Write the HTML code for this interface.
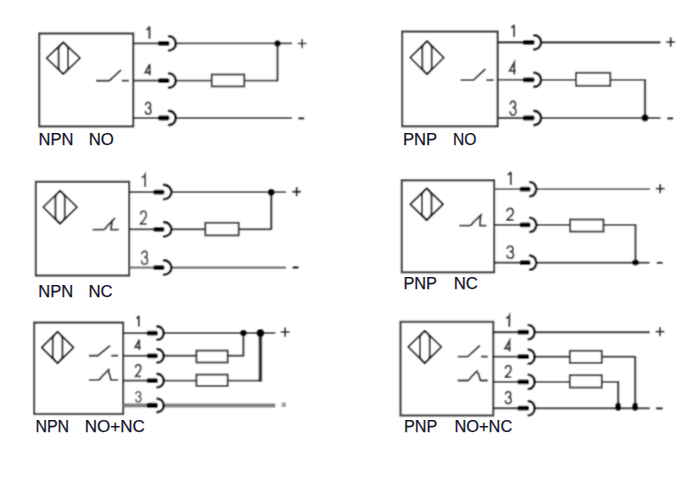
<!DOCTYPE html>
<html><head><meta charset="utf-8"><style>
html,body{margin:0;padding:0;background:#fff;}
svg{display:block;}
text{font-family:"Liberation Sans",sans-serif;}
</style></head><body>
<svg width="700" height="496" viewBox="0 0 700 496">
<defs><filter id="bl" x="0" y="0" width="700" height="496" filterUnits="userSpaceOnUse"><feConvolveMatrix order="3" kernelMatrix="1 3 1 3 9 3 1 3 1" edgeMode="duplicate" preserveAlpha="false"/></filter></defs>
<rect width="700" height="496" fill="#fff"/>
<g filter="url(#bl)">
<rect width="700" height="496" fill="#fff"/>
<rect x="39.2" y="33.5" width="94" height="92.9" stroke="#2e2e2e" stroke-width="2.2" fill="none"/>
<path d="M46.55,58.2 L63.3,42.25 L80.05,58.2 L63.3,74.15 Z" stroke="#0a0a0a" stroke-width="1.8" fill="none" stroke-linejoin="round"/>
<path d="M63.3,42.55 Q58.6,46.43 58.6,48.93 L58.6,67.47 Q58.6,69.97 63.3,73.85 Q68.0,69.97 68.0,67.47 L68.0,48.93 Q68.0,46.43 63.3,42.55" stroke="#0a0a0a" stroke-width="1.8" fill="none"/>
<path d="M96.1,80.7 L109.3,80.7 L121.1,69.9" stroke="#262626" stroke-width="1.9" fill="none" stroke-linejoin="round"/>
<path d="M121.8,80.7 L128.9,80.7" stroke="#262626" stroke-width="1.9" fill="none"/>
<line x1="133.2" y1="43.4" x2="158.3" y2="43.4" stroke="#2a2a2a" stroke-width="1.9"/>
<line x1="176.6" y1="43.4" x2="292" y2="43.4" stroke="#2a2a2a" stroke-width="1.9"/>
<rect x="158.0" y="41.0" width="11.4" height="4.8" rx="1.6" fill="#000"/>
<path d="M169.0,36.3 A6.8,7.1 0 0 1 169.0,50.5" fill="none" stroke="#000" stroke-width="2.6" stroke-linecap="round"/>
<line x1="133.2" y1="80.6" x2="158.3" y2="80.6" stroke="#2a2a2a" stroke-width="1.9"/>
<line x1="176.6" y1="80.6" x2="277.5" y2="80.6" stroke="#2a2a2a" stroke-width="1.9"/>
<rect x="158.0" y="78.2" width="11.4" height="4.8" rx="1.6" fill="#000"/>
<path d="M169.0,73.5 A6.8,7.1 0 0 1 169.0,87.7" fill="none" stroke="#000" stroke-width="2.6" stroke-linecap="round"/>
<line x1="133.2" y1="118" x2="158.3" y2="118" stroke="#2a2a2a" stroke-width="1.9"/>
<line x1="176.6" y1="118" x2="292" y2="118" stroke="#2a2a2a" stroke-width="1.9"/>
<rect x="158.0" y="115.6" width="11.4" height="4.8" rx="1.6" fill="#000"/>
<path d="M169.0,110.9 A6.8,7.1 0 0 1 169.0,125.1" fill="none" stroke="#000" stroke-width="2.6" stroke-linecap="round"/>
<rect x="211.7" y="74.5" width="32.6" height="11.9" stroke="#2e2e2e" stroke-width="1.9" fill="#fff"/>
<line x1="277.5" y1="43" x2="277.5" y2="81.4" stroke="#2e2e2e" stroke-width="2.0"/>
<circle cx="277.5" cy="43.4" r="3.2" fill="#000"/>
<path d="M297.7,43.6 L306.5,43.6 M302.1,39.0 L302.1,48.2" stroke="#1e1e1e" stroke-width="1.5"/>
<line x1="299.1" y1="118.3" x2="303.3" y2="118.3" stroke="#1e1e1e" stroke-width="2.3" stroke-linecap="round"/>
<rect x="402.1" y="31.6" width="95.6" height="94.7" stroke="#2e2e2e" stroke-width="2.2" fill="none"/>
<path d="M410.2,57.7 L427.0,41.0 L443.8,57.7 L427.0,74.4 Z" stroke="#0a0a0a" stroke-width="1.8" fill="none" stroke-linejoin="round"/>
<path d="M427.0,41.3 Q422.3,45.37 422.3,47.87 L422.3,67.53 Q422.3,70.03 427.0,74.1 Q431.7,70.03 431.7,67.53 L431.7,47.87 Q431.7,45.37 427.0,41.3" stroke="#0a0a0a" stroke-width="1.8" fill="none"/>
<path d="M460.6,80.1 L473.4,80.1 L485.4,69" stroke="#262626" stroke-width="1.9" fill="none" stroke-linejoin="round"/>
<path d="M486.3,80.1 L493.6,80.1" stroke="#262626" stroke-width="1.9" fill="none"/>
<line x1="497.7" y1="42.3" x2="523" y2="42.3" stroke="#1a1a1a" stroke-width="2.3"/>
<line x1="541.9" y1="42.3" x2="660.4" y2="42.3" stroke="#1a1a1a" stroke-width="2.3"/>
<rect x="522.7" y="39.9" width="11.9" height="4.8" rx="1.6" fill="#000"/>
<path d="M534.2,35.2 A6.9,7.1 0 0 1 534.2,49.4" fill="none" stroke="#000" stroke-width="2.6" stroke-linecap="round"/>
<line x1="497.7" y1="79.8" x2="523" y2="79.8" stroke="#3a3a3a" stroke-width="1.8"/>
<line x1="541.9" y1="79.8" x2="645.0" y2="79.8" stroke="#3a3a3a" stroke-width="1.8"/>
<rect x="522.7" y="77.4" width="11.9" height="4.8" rx="1.6" fill="#000"/>
<path d="M534.2,72.7 A6.9,7.1 0 0 1 534.2,86.9" fill="none" stroke="#000" stroke-width="2.6" stroke-linecap="round"/>
<line x1="497.7" y1="118.0" x2="523" y2="118.0" stroke="#222" stroke-width="2.2"/>
<line x1="541.9" y1="118.0" x2="660.4" y2="118.0" stroke="#222" stroke-width="2.2"/>
<rect x="522.7" y="115.6" width="11.9" height="4.8" rx="1.6" fill="#000"/>
<path d="M534.2,110.9 A6.9,7.1 0 0 1 534.2,125.1" fill="none" stroke="#000" stroke-width="2.6" stroke-linecap="round"/>
<rect x="576" y="72.8" width="34.3" height="13.0" stroke="#2e2e2e" stroke-width="1.9" fill="#fff"/>
<line x1="645.0" y1="79.0" x2="645.0" y2="117.8" stroke="#2e2e2e" stroke-width="2.3"/>
<circle cx="645.0" cy="117.8" r="3.6" fill="#000"/>
<path d="M666.3,42.1 L675.1,42.1 M670.7,37.5 L670.7,46.7" stroke="#1e1e1e" stroke-width="1.9"/>
<line x1="668.1" y1="118.4" x2="672.3" y2="118.4" stroke="#1e1e1e" stroke-width="2.3" stroke-linecap="round"/>
<rect x="35.9" y="181.8" width="93.2" height="93.8" stroke="#2e2e2e" stroke-width="2.2" fill="none"/>
<path d="M43.25,207.2 L60.1,190.55 L76.95,207.2 L60.1,223.85 Z" stroke="#0a0a0a" stroke-width="1.8" fill="none" stroke-linejoin="round"/>
<path d="M60.1,190.85 Q55.45,194.84 55.45,197.34 L55.45,217.06 Q55.45,219.56 60.1,223.55 Q64.75,219.56 64.75,217.06 L64.75,197.34 Q64.75,194.84 60.1,190.85" stroke="#0a0a0a" stroke-width="1.8" fill="none"/>
<path d="M92.6,229.6 L103.4,229.6 Q105.16,229.6 106.91,226.32 L115.1,217.9" stroke="#262626" stroke-width="1.9" fill="none" stroke-linejoin="round"/>
<path d="M112.5,219.9 L110.8,229.6 L118.7,229.6" stroke="#262626" stroke-width="1.9" fill="none" stroke-linejoin="round"/>
<line x1="129.1" y1="192.1" x2="153.6" y2="192.1" stroke="#2a2a2a" stroke-width="1.9"/>
<line x1="172.2" y1="192.1" x2="286" y2="192.1" stroke="#2a2a2a" stroke-width="1.9"/>
<rect x="153.3" y="189.7" width="11.1" height="4.8" rx="1.6" fill="#000"/>
<path d="M164.0,184.9 A7.4,7.2 0 0 1 164.0,199.3" fill="none" stroke="#000" stroke-width="2.6" stroke-linecap="round"/>
<line x1="129.1" y1="229.3" x2="153.6" y2="229.3" stroke="#2a2a2a" stroke-width="1.9"/>
<line x1="172.2" y1="229.3" x2="271.1" y2="229.3" stroke="#2a2a2a" stroke-width="1.9"/>
<rect x="153.3" y="226.9" width="11.1" height="4.8" rx="1.6" fill="#000"/>
<path d="M164.0,222.1 A7.4,7.2 0 0 1 164.0,236.5" fill="none" stroke="#000" stroke-width="2.6" stroke-linecap="round"/>
<line x1="129.1" y1="267.6" x2="153.6" y2="267.6" stroke="#6a6a6a" stroke-width="2.1"/>
<line x1="172.2" y1="267.6" x2="286" y2="267.6" stroke="#6a6a6a" stroke-width="2.1"/>
<rect x="153.3" y="265.2" width="11.1" height="4.8" rx="1.6" fill="#000"/>
<path d="M164.0,260.4 A7.4,7.2 0 0 1 164.0,274.8" fill="none" stroke="#000" stroke-width="2.6" stroke-linecap="round"/>
<rect x="205.3" y="222.8" width="33.4" height="12.6" stroke="#2e2e2e" stroke-width="1.9" fill="#fff"/>
<line x1="271.2" y1="192.2" x2="271.2" y2="229.9" stroke="#2e2e2e" stroke-width="2.3"/>
<circle cx="271.2" cy="192.2" r="3.5" fill="#000"/>
<path d="M292.3,191.7 L301.1,191.7 M296.7,187.1 L296.7,196.3" stroke="#1e1e1e" stroke-width="1.9"/>
<line x1="293.5" y1="267.5" x2="297.7" y2="267.5" stroke="#1e1e1e" stroke-width="2.3" stroke-linecap="round"/>
<rect x="401.8" y="180.3" width="92.3" height="92.0" stroke="#2e2e2e" stroke-width="2.2" fill="none"/>
<path d="M410.3,204.25 L426.7,188.25 L443.1,204.25 L426.7,220.25 Z" stroke="#0a0a0a" stroke-width="1.8" fill="none" stroke-linejoin="round"/>
<path d="M426.7,188.55 Q421.9,192.63 421.9,195.13 L421.9,213.37 Q421.9,215.87 426.7,219.95 Q431.5,215.87 431.5,213.37 L431.5,195.13 Q431.5,192.63 426.7,188.55" stroke="#0a0a0a" stroke-width="1.8" fill="none"/>
<path d="M459.3,225.6 L469.5,225.6 Q471.38,225.6 473.25,222.32 L482.0,213.9" stroke="#262626" stroke-width="1.9" fill="none" stroke-linejoin="round"/>
<path d="M480.6,215.9 L479.9,225.6 L486.4,225.6" stroke="#262626" stroke-width="1.9" fill="none" stroke-linejoin="round"/>
<line x1="494.1" y1="189.1" x2="519.9" y2="189.1" stroke="#505050" stroke-width="1.7"/>
<line x1="537.1" y1="189.1" x2="650.0" y2="189.1" stroke="#505050" stroke-width="1.7"/>
<rect x="519.6" y="186.7" width="10.9" height="4.8" rx="1.6" fill="#000"/>
<path d="M530.1,182.0 A6.2,7.1 0 0 1 530.1,196.2" fill="none" stroke="#000" stroke-width="2.6" stroke-linecap="round"/>
<line x1="494.1" y1="224.9" x2="519.9" y2="224.9" stroke="#2a2a2a" stroke-width="1.9"/>
<line x1="537.1" y1="224.9" x2="635.5" y2="224.9" stroke="#2a2a2a" stroke-width="1.9"/>
<rect x="519.6" y="222.5" width="10.9" height="4.8" rx="1.6" fill="#000"/>
<path d="M530.1,217.8 A6.2,7.1 0 0 1 530.1,232.0" fill="none" stroke="#000" stroke-width="2.6" stroke-linecap="round"/>
<line x1="494.1" y1="262.7" x2="519.9" y2="262.7" stroke="#2a2a2a" stroke-width="2.0"/>
<line x1="537.1" y1="262.7" x2="649.5" y2="262.7" stroke="#2a2a2a" stroke-width="2.0"/>
<rect x="519.6" y="260.3" width="10.9" height="4.8" rx="1.6" fill="#000"/>
<path d="M530.1,255.6 A6.2,7.1 0 0 1 530.1,269.8" fill="none" stroke="#000" stroke-width="2.6" stroke-linecap="round"/>
<rect x="570.1" y="219.5" width="33.4" height="12.1" stroke="#2e2e2e" stroke-width="1.9" fill="#fff"/>
<line x1="635.5" y1="224.0" x2="635.5" y2="262.7" stroke="#2e2e2e" stroke-width="2.0"/>
<ellipse cx="635.5" cy="262.6" rx="3.6" ry="3.0" fill="#000"/>
<path d="M655.8,188.6 L664.6,188.6 M660.2,184.0 L660.2,193.2" stroke="#1e1e1e" stroke-width="1.9"/>
<line x1="657.7" y1="262.9" x2="661.9" y2="262.9" stroke="#1e1e1e" stroke-width="2.3" stroke-linecap="round"/>
<rect x="34.1" y="322.6" width="89.0" height="91.4" stroke="#2e2e2e" stroke-width="2.2" fill="none"/>
<path d="M41.7,347.5 L57.6,331.6 L73.5,347.5 L57.6,363.4 Z" stroke="#0a0a0a" stroke-width="1.8" fill="none" stroke-linejoin="round"/>
<path d="M57.6,331.9 Q52.75,336.15 52.75,338.65 L52.75,356.35 Q52.75,358.85 57.6,363.1 Q62.45,358.85 62.45,356.35 L62.45,338.65 Q62.45,336.15 57.6,331.9" stroke="#0a0a0a" stroke-width="1.8" fill="none"/>
<path d="M88.9,355.7 L97.7,355.7 L110.2,345.5" stroke="#262626" stroke-width="1.9" fill="none" stroke-linejoin="round"/>
<path d="M111.3,355.7 L118.2,355.7" stroke="#262626" stroke-width="1.9" fill="none"/>
<path d="M88.9,379.9 L98.3,379.9 Q99.97,379.9 101.63,376.79 L109.4,368.8" stroke="#262626" stroke-width="1.9" fill="none" stroke-linejoin="round"/>
<path d="M108.5,370.8 L111,379.9 L118.2,379.9" stroke="#262626" stroke-width="1.9" fill="none" stroke-linejoin="round"/>
<line x1="123.1" y1="333.1" x2="147" y2="333.1" stroke="#2a2a2a" stroke-width="2.0"/>
<line x1="164.5" y1="333.1" x2="275.3" y2="333.1" stroke="#2a2a2a" stroke-width="2.0"/>
<rect x="146.7" y="330.7" width="11.1" height="4.8" rx="1.6" fill="#000"/>
<path d="M157.4,326.4 A6.3,6.7 0 0 1 157.4,339.8" fill="none" stroke="#000" stroke-width="2.6" stroke-linecap="round"/>
<line x1="123.1" y1="355.8" x2="147" y2="355.8" stroke="#2a2a2a" stroke-width="1.9"/>
<line x1="164.5" y1="355.8" x2="243.3" y2="355.8" stroke="#2a2a2a" stroke-width="1.9"/>
<rect x="146.7" y="353.4" width="11.1" height="4.8" rx="1.6" fill="#000"/>
<path d="M157.4,349.1 A6.3,6.7 0 0 1 157.4,362.5" fill="none" stroke="#000" stroke-width="2.6" stroke-linecap="round"/>
<line x1="123.1" y1="380.6" x2="147" y2="380.6" stroke="#2a2a2a" stroke-width="1.9"/>
<line x1="164.5" y1="380.6" x2="260.4" y2="380.6" stroke="#2a2a2a" stroke-width="1.9"/>
<rect x="146.7" y="378.2" width="11.1" height="4.8" rx="1.6" fill="#000"/>
<path d="M157.4,373.9 A6.3,6.7 0 0 1 157.4,387.3" fill="none" stroke="#000" stroke-width="2.6" stroke-linecap="round"/>
<line x1="123.1" y1="405.4" x2="147" y2="405.4" stroke="#808080" stroke-width="4.0"/>
<line x1="164.5" y1="405.4" x2="275.3" y2="405.4" stroke="#808080" stroke-width="4.0"/>
<rect x="146.7" y="402.8" width="11.1" height="5.2" rx="1.6" fill="#000"/>
<path d="M157.4,398.7 A6.3,6.7 0 0 1 157.4,412.1" fill="none" stroke="#000" stroke-width="2.6" stroke-linecap="round"/>
<rect x="196.4" y="350.6" width="31.3" height="11.9" stroke="#2e2e2e" stroke-width="1.9" fill="#fff"/>
<rect x="196.4" y="374.6" width="31.3" height="11.4" stroke="#2e2e2e" stroke-width="1.9" fill="#fff"/>
<line x1="243.4" y1="332.6" x2="243.4" y2="356.6" stroke="#2e2e2e" stroke-width="2.0"/>
<circle cx="243.4" cy="333.0" r="3.3" fill="#000"/>
<line x1="260.4" y1="332.6" x2="260.4" y2="381.6" stroke="#2e2e2e" stroke-width="3.6"/>
<circle cx="260.4" cy="333.0" r="4.0" fill="#000"/>
<path d="M280.7,332.1 L289.5,332.1 M285.1,327.5 L285.1,336.7" stroke="#1e1e1e" stroke-width="1.9"/>
<rect x="281.5" y="402.5" width="4.5" height="4.5" fill="#a0a0a0"/>
<rect x="400.5" y="321.9" width="92.7" height="93.6" stroke="#4a4a4a" stroke-width="2.4" fill="none"/>
<path d="M408.2,346.95 L424.8,330.65 L441.4,346.95 L424.8,363.25 Z" stroke="#0a0a0a" stroke-width="1.8" fill="none" stroke-linejoin="round"/>
<path d="M424.8,330.95 Q419.9,335.16 419.9,337.66 L419.9,356.24 Q419.9,358.74 424.8,362.95 Q429.7,358.74 429.7,356.24 L429.7,337.66 Q429.7,335.16 424.8,330.95" stroke="#0a0a0a" stroke-width="1.8" fill="none"/>
<path d="M457.7,356.6 L467.7,356.6 L479.9,345.5" stroke="#262626" stroke-width="1.9" fill="none" stroke-linejoin="round"/>
<path d="M481,356.6 L487.7,356.6" stroke="#262626" stroke-width="1.9" fill="none"/>
<path d="M457.7,380.5 L467.7,380.5 Q469.2,380.5 470.7,377.64 L477.7,370.3" stroke="#262626" stroke-width="1.9" fill="none" stroke-linejoin="round"/>
<path d="M477.9,372.3 L480.5,380.5 L487.7,380.5" stroke="#262626" stroke-width="1.9" fill="none" stroke-linejoin="round"/>
<line x1="493.2" y1="332.1" x2="517.7" y2="332.1" stroke="#1a1a1a" stroke-width="2.3"/>
<line x1="535.4" y1="332.1" x2="649.8" y2="332.1" stroke="#1a1a1a" stroke-width="2.3"/>
<rect x="517.4" y="329.7" width="11.7" height="4.8" rx="1.6" fill="#000"/>
<path d="M528.7,325.0 A5.9,7.1 0 0 1 528.7,339.2" fill="none" stroke="#000" stroke-width="2.6" stroke-linecap="round"/>
<line x1="493.2" y1="356.7" x2="517.7" y2="356.7" stroke="#2a2a2a" stroke-width="1.9"/>
<line x1="535.4" y1="356.7" x2="635.1" y2="356.7" stroke="#2a2a2a" stroke-width="1.9"/>
<rect x="517.4" y="354.3" width="11.7" height="4.8" rx="1.6" fill="#000"/>
<path d="M528.7,349.6 A5.9,7.1 0 0 1 528.7,363.8" fill="none" stroke="#000" stroke-width="2.6" stroke-linecap="round"/>
<line x1="493.2" y1="381.9" x2="517.7" y2="381.9" stroke="#2a2a2a" stroke-width="1.9"/>
<line x1="535.4" y1="381.9" x2="618.1" y2="381.9" stroke="#2a2a2a" stroke-width="1.9"/>
<rect x="517.4" y="379.5" width="11.7" height="4.8" rx="1.6" fill="#000"/>
<path d="M528.7,374.8 A5.9,7.1 0 0 1 528.7,389.0" fill="none" stroke="#000" stroke-width="2.6" stroke-linecap="round"/>
<line x1="493.2" y1="408.2" x2="517.7" y2="408.2" stroke="#222" stroke-width="2.1"/>
<line x1="535.4" y1="408.2" x2="649.8" y2="408.2" stroke="#222" stroke-width="2.1"/>
<rect x="517.4" y="405.8" width="11.7" height="4.8" rx="1.6" fill="#000"/>
<path d="M528.7,401.1 A5.9,7.1 0 0 1 528.7,415.3" fill="none" stroke="#000" stroke-width="2.6" stroke-linecap="round"/>
<rect x="569.8" y="350.8" width="32.0" height="12.1" stroke="#2e2e2e" stroke-width="1.9" fill="#fff"/>
<rect x="569.8" y="375.2" width="32.0" height="12.4" stroke="#2e2e2e" stroke-width="1.9" fill="#fff"/>
<line x1="635.1" y1="356.0" x2="635.1" y2="407.8" stroke="#2e2e2e" stroke-width="2.3"/>
<line x1="618.1" y1="381.0" x2="618.1" y2="407.8" stroke="#2e2e2e" stroke-width="2.3"/>
<ellipse cx="618.1" cy="406.8" rx="3.0" ry="4.3" fill="#000"/>
<ellipse cx="635.1" cy="406.8" rx="3.0" ry="4.3" fill="#000"/>
<path d="M655.6,331.6 L664.4,331.6 M660.0,327.0 L660.0,336.2" stroke="#1e1e1e" stroke-width="1.9"/>
<line x1="656.9" y1="408.3" x2="661.9" y2="408.3" stroke="#1e1e1e" stroke-width="2.3" stroke-linecap="round"/>
<path d="M146.4,29.8 Q148.55,28.7 149.5,26.4 L149.5,38.8" stroke="#2e2e2e" stroke-width="2.0" fill="none" stroke-linecap="butt"/>
<path d="M149.7,75.3 L149.7,64.2 L145.2,72.5 L151.1,72.5" stroke="#2e2e2e" stroke-width="1.85" fill="none" stroke-linejoin="miter"/>
<path d="M145.37,105.33 C145.78,103.22 146.82,102.40 148.10,102.40 C149.67,102.40 150.59,103.92 150.59,105.44 C150.59,107.08 149.55,107.90 147.64,107.90 C149.84,107.90 151.00,109.19 151.00,110.94 C151.00,112.93 149.84,114.10 148.10,114.10 C146.36,114.10 145.37,112.93 145.20,110.82" stroke="#2e2e2e" stroke-width="1.75" fill="none"/>
<path d="M511.0,27.8 Q513.15,26.9 514.1,24.8 L514.1,37.0" stroke="#2e2e2e" stroke-width="2.0" fill="none" stroke-linecap="butt"/>
<path d="M514.3,74.6 L514.3,62.6 L509.6,70.9 L516.0,70.9" stroke="#2e2e2e" stroke-width="1.85" fill="none" stroke-linejoin="miter"/>
<path d="M510.18,104.50 C510.60,101.98 511.68,101.00 513.00,101.00 C514.62,101.00 515.58,102.82 515.58,104.64 C515.58,106.60 514.50,107.58 512.52,107.58 C514.80,107.58 516.00,109.12 516.00,111.22 C516.00,113.60 514.80,115.00 513.00,115.00 C511.20,115.00 510.18,113.60 510.00,111.08" stroke="#2e2e2e" stroke-width="1.75" fill="none"/>
<path d="M141.6,177.6 Q143.95,176.8 145.1,174.8 L145.1,187.0" stroke="#444" stroke-width="2.0" fill="none" stroke-linecap="butt"/>
<path d="M140.52,214.66 C140.77,212.22 142.05,211.20 143.45,211.20 C145.16,211.20 146.32,212.74 146.32,215.04 C146.32,217.60 144.79,219.14 143.15,220.80 C141.62,222.21 140.58,223.10 140.52,224.00 L146.50,224.00" stroke="#444" stroke-width="1.8" fill="none"/>
<path d="M141.68,254.30 C142.10,251.92 143.18,251.00 144.50,251.00 C146.12,251.00 147.08,252.72 147.08,254.43 C147.08,256.28 146.00,257.20 144.02,257.20 C146.30,257.20 147.50,258.66 147.50,260.64 C147.50,262.88 146.30,264.20 144.50,264.20 C142.70,264.20 141.68,262.88 141.50,260.50" stroke="#444" stroke-width="1.75" fill="none"/>
<path d="M507.6,174.8 Q509.85,174.0 510.9,172.0 L510.9,185.0" stroke="#2e2e2e" stroke-width="2.0" fill="none" stroke-linecap="butt"/>
<path d="M506.84,211.53 C507.11,209.33 508.54,208.40 510.10,208.40 C512.00,208.40 513.30,209.79 513.30,211.88 C513.30,214.20 511.60,215.59 509.76,217.10 C508.06,218.38 506.90,219.19 506.84,220.00 L513.50,220.00" stroke="#2e2e2e" stroke-width="1.8" fill="none"/>
<path d="M507.00,249.05 C507.47,246.85 508.68,246.00 510.15,246.00 C511.96,246.00 513.03,247.59 513.03,249.17 C513.03,250.88 511.82,251.73 509.61,251.73 C512.16,251.73 513.50,253.08 513.50,254.91 C513.50,256.98 512.16,258.20 510.15,258.20 C508.14,258.20 507.00,256.98 506.80,254.78" stroke="#2e2e2e" stroke-width="1.75" fill="none"/>
<path d="M136.4,318.5 Q138.25,317.75 138.9,315.8 L138.9,326.5" stroke="#2e2e2e" stroke-width="2.0" fill="none" stroke-linecap="butt"/>
<path d="M139.3,350.1 L139.3,339.8 L135.2,347.3 L140.8,347.3" stroke="#2e2e2e" stroke-width="1.85" fill="none" stroke-linejoin="miter"/>
<path d="M135.51,367.76 C135.74,365.54 136.91,364.60 138.20,364.60 C139.77,364.60 140.83,366.00 140.83,368.11 C140.83,370.45 139.43,371.85 137.92,373.38 C136.52,374.66 135.57,375.48 135.51,376.30 L141.00,376.30" stroke="#2e2e2e" stroke-width="1.8" fill="none"/>
<path d="M135.76,394.18 C136.14,392.32 137.11,391.60 138.30,391.60 C139.76,391.60 140.62,392.94 140.62,394.28 C140.62,395.72 139.65,396.44 137.87,396.44 C139.92,396.44 141.00,397.57 141.00,399.12 C141.00,400.87 139.92,401.90 138.30,401.90 C136.68,401.90 135.76,400.87 135.60,399.02" stroke="#666" stroke-width="1.75" fill="none"/>
<path d="M506.0,318.3 Q508.25,317.65 509.3,315.8 L509.3,326.7" stroke="#2e2e2e" stroke-width="2.0" fill="none" stroke-linecap="butt"/>
<path d="M509.5,351.4 L509.5,340.7 L505.0,348.5 L510.8,348.5" stroke="#2e2e2e" stroke-width="1.85" fill="none" stroke-linejoin="miter"/>
<path d="M505.32,368.81 C505.56,366.62 506.82,365.70 508.20,365.70 C509.88,365.70 511.02,367.08 511.02,369.15 C511.02,371.45 509.52,372.83 507.90,374.32 C506.40,375.59 505.38,376.39 505.32,377.20 L511.20,377.20" stroke="#2e2e2e" stroke-width="1.8" fill="none"/>
<path d="M505.38,394.52 C505.80,392.35 506.88,391.50 508.20,391.50 C509.82,391.50 510.78,393.07 510.78,394.65 C510.78,396.34 509.70,397.19 507.72,397.19 C510.00,397.19 511.20,398.52 511.20,400.33 C511.20,402.39 510.00,403.60 508.20,403.60 C506.40,403.60 505.38,402.39 505.20,400.21" stroke="#2e2e2e" stroke-width="1.75" fill="none"/>
</g>
<text x="38.6" y="145.4" font-size="16.8" textLength="34.93" lengthAdjust="spacingAndGlyphs" fill="#14142a" stroke="#14142a" stroke-width="0.25">NPN</text>
<text x="88.7" y="145.4" font-size="16.8" textLength="25.20" lengthAdjust="spacingAndGlyphs" fill="#14142a" stroke="#14142a" stroke-width="0.25">NO</text>
<text x="402.9" y="145.1" font-size="16.8" textLength="34.13" lengthAdjust="spacingAndGlyphs" fill="#14142a" stroke="#14142a" stroke-width="0.25">PNP</text>
<text x="452.9" y="145.1" font-size="16.8" textLength="23.44" lengthAdjust="spacingAndGlyphs" fill="#14142a" stroke="#14142a" stroke-width="0.25">NO</text>
<text x="38.3" y="296.7" font-size="16.8" textLength="34.93" lengthAdjust="spacingAndGlyphs" fill="#14142a" stroke="#14142a" stroke-width="0.25">NPN</text>
<text x="88.5" y="296.7" font-size="16.8" textLength="24.26" lengthAdjust="spacingAndGlyphs" fill="#14142a" stroke="#14142a" stroke-width="0.25">NC</text>
<text x="403.4" y="288.7" font-size="16.8" textLength="33.61" lengthAdjust="spacingAndGlyphs" fill="#14142a" stroke="#14142a" stroke-width="0.25">PNP</text>
<text x="453.7" y="288.7" font-size="16.8" textLength="24.26" lengthAdjust="spacingAndGlyphs" fill="#14142a" stroke="#14142a" stroke-width="0.25">NC</text>
<text x="35.4" y="432.3" font-size="16.8" textLength="33.69" lengthAdjust="spacingAndGlyphs" fill="#14142a" stroke="#14142a" stroke-width="0.25">NPN</text>
<text x="84.7" y="432.3" font-size="16.8" textLength="60.22" lengthAdjust="spacingAndGlyphs" fill="#14142a" stroke="#14142a" stroke-width="0.25">NO+NC</text>
<text x="404.0" y="432.3" font-size="16.8" textLength="33.30" lengthAdjust="spacingAndGlyphs" fill="#14142a" stroke="#14142a" stroke-width="0.25">PNP</text>
<text x="454.4" y="432.3" font-size="16.8" textLength="57.85" lengthAdjust="spacingAndGlyphs" fill="#14142a" stroke="#14142a" stroke-width="0.25">NO+NC</text>
</svg>
</body></html>
